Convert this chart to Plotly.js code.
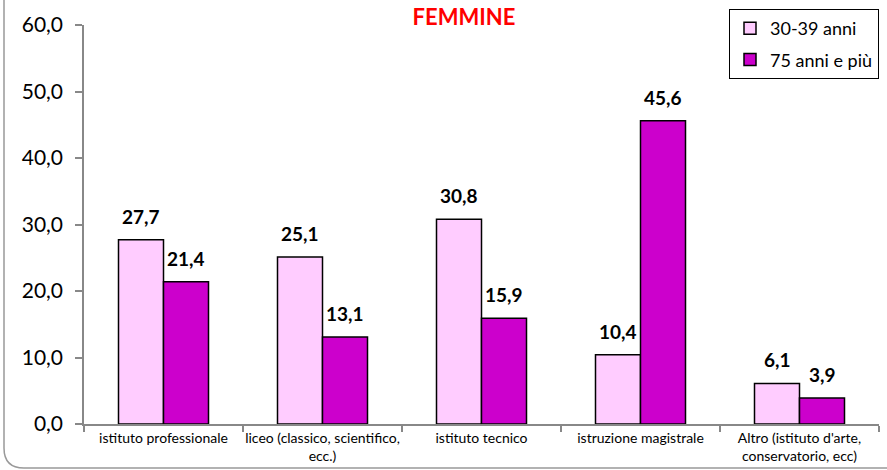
<!DOCTYPE html>
<html>
<head>
<meta charset="utf-8">
<script src="https://cdn.plot.ly/plotly-3.0.1.min.js"></script>
<style>html,body{margin:0;padding:0;background:#fff;}#chart{width:887px;height:470px;}</style>
</head>
<body>
<div id="chart"></div>
<script>
var categories = ["istituto professionale", "liceo (classico, scientifico,<br>ecc.)", "istituto tecnico", "istruzione magistrale", "Altro (istituto d'arte,<br>conservatorio, ecc)"];
var series1Name = "30-39 anni";
var series2Name = "75 anni e più";
var series1 = [27.7, 25.1, 30.8, 10.4, 6.1];
var series2 = [21.4, 13.1, 15.9, 45.6, 3.9];
var yTicks = [0, 10, 20, 30, 40, 50, 60];

var L = 84, R = 879, T = 25, B = 424;
function px(x){ return (x - L) / (R - L); }
function py(y){ return (B - y) / (B - T); }

var font = "Lato, 'Open Sans', sans-serif";

var traces = [
  {type: "bar", name: series1Name, x: categories, y: series1, legendgroup: "a",
   marker: {color: "#FFCCFF", line: {color: "#000", width: 1.5}}, hoverinfo: "y"},
  {type: "bar", name: series2Name, x: categories, y: series2, legendgroup: "b",
   marker: {color: "#CC00CC", line: {color: "#000", width: 1.5}}, hoverinfo: "y"}
];

var annotations = [];
function addLabels(vals, shift){
  vals.forEach(function(v, i){
    annotations.push({x: categories[i], y: v, xref: "x", yref: "y", text: v.toFixed(1).replace(".", ","),
      showarrow: false, yanchor: "bottom", xshift: shift, yshift: 10,
      font: {family: font, size: 19, color: "#000", weight: "bold"}});
  });
}
addLabels(series1, -22.5);
addLabels(series2, 22.5);

var borderPath = "M " + px(4) + "," + py(-20) + " L " + px(4) + "," + py(448) +
  " Q " + px(4) + "," + py(468) + " " + px(24) + "," + py(468) + " L " + px(920) + "," + py(468);

var layout = {
  width: 887, height: 470,
  margin: {l: L, r: 887 - R, t: T, b: 470 - B, pad: 0},
  paper_bgcolor: "rgba(0,0,0,0)", plot_bgcolor: "rgba(0,0,0,0)",
  separators: ",.",
  font: {family: font, color: "#000"},
  title: {text: "FEMMINE", font: {family: font, size: 22, color: "#FF0000", weight: "bold"},
    x: 464 / 887, xanchor: "center", y: 1 - 17 / 470, yanchor: "middle", xref: "container", yref: "container"},
  barmode: "group", bargap: 0.434, bargroupgap: 0,
  showlegend: true,
  legend: {x: 1, xanchor: "right", y: py(9), yanchor: "top", bordercolor: "#000", borderwidth: 1,
    bgcolor: "#fff", font: {family: font, size: 18, color: "#000"}, tracegroupgap: 5,
    traceorder: "grouped"},
  xaxis: {type: "category", showline: true, linecolor: "#888", linewidth: 1.5, ticks: "outside",
    tickson: "boundaries", ticklen: 6, tickcolor: "#888", tickwidth: 1.5, tickangle: 0,
    tickfont: {family: font, size: 14, color: "#000"}, showgrid: false, zeroline: false,
    fixedrange: true, automargin: false},
  yaxis: {range: [0, 60], tickvals: yTicks, tickformat: ".1f", showline: true, linecolor: "#888",
    linewidth: 1.5, ticks: "outside", ticklen: 7, tickcolor: "#888", tickwidth: 1.5,
    ticklabelstandoff: 8, tickfont: {family: font, size: 21, color: "#000"}, showgrid: false,
    zeroline: false, fixedrange: true, automargin: false},
  annotations: annotations,
  shapes: [{type: "path", xref: "paper", yref: "paper", path: borderPath,
    line: {color: "#999", width: 1.5}, layer: "below"}]
};

Plotly.newPlot("chart", traces, layout, {displayModeBar: false});
</script>
</body>
</html>
